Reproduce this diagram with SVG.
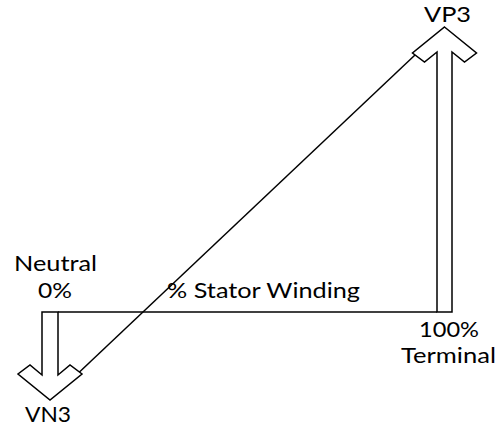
<svg xmlns="http://www.w3.org/2000/svg" width="498" height="428" viewBox="0 0 498 428">
  <style>
    .shape { fill: #ffffff; stroke: #000000; stroke-width: 1.5; stroke-linejoin: miter; }
    .wire { fill: none; stroke: #000000; stroke-width: 1.5; }
    .lbl { font-family: Lato, "Liberation Sans", sans-serif; font-size: 21px; fill: #000000; }
  </style>
  <rect width="498" height="428" fill="#ffffff"/>

  <!-- connectors: winding axis and phasor diagonal -->
  <g id="connectors">
    <line class="wire" x1="58" y1="312" x2="437" y2="312"/>
    <line class="wire" x1="53" y1="397" x2="415" y2="55"/>
  </g>

  <!-- terminal end: upward arrow VP3 -->
  <g id="vp3">
    <polygon class="shape" points="444.5,27 476.5,53 464.5,62 452,52 452,312 437,312 437,52 424.5,62 412.5,53"/>
    <text class="lbl" x="424" y="22" textLength="47" lengthAdjust="spacingAndGlyphs">VP3</text>
  </g>

  <!-- neutral end: downward arrow VN3 -->
  <g id="vn3">
    <polygon class="shape" points="42,312 58,312 58,375 70,365 82,374 50,400 18,374 30,365 42,375"/>
    <text class="lbl" x="25" y="422" textLength="46" lengthAdjust="spacingAndGlyphs">VN3</text>
  </g>

  <g id="neutral-label">
    <text class="lbl" x="14" y="271" textLength="83" lengthAdjust="spacingAndGlyphs">Neutral</text>
    <text class="lbl" x="38" y="298" textLength="34" lengthAdjust="spacingAndGlyphs">0%</text>
  </g>

  <g id="winding-label">
    <text class="lbl" x="167" y="298" textLength="193" lengthAdjust="spacingAndGlyphs">% Stator Winding</text>
  </g>

  <g id="terminal-label">
    <text class="lbl" x="419" y="337" textLength="60" lengthAdjust="spacingAndGlyphs">100%</text>
    <text class="lbl" x="401" y="363" textLength="95" lengthAdjust="spacingAndGlyphs">Terminal</text>
  </g>
</svg>
